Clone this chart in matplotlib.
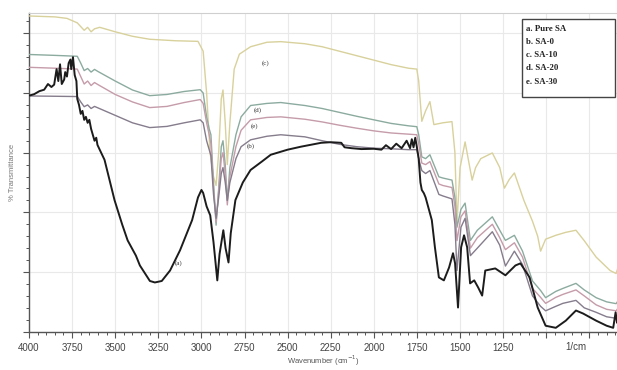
import matplotlib
matplotlib.use("Agg")
import matplotlib.pyplot as plt
from matplotlib.ticker import FixedLocator, MultipleLocator

# ---------------- data (wavenumber cm^-1, % transmittance) ----------------
wn_a = [4000, 3970, 3940, 3912, 3890, 3870, 3854, 3840, 3830, 3820, 3810, 3796, 3790, 3780,
        3770, 3760, 3755, 3745, 3735, 3725, 3720, 3710, 3700, 3690, 3680, 3670, 3660, 3650,
        3640, 3620, 3610, 3603, 3590, 3562, 3504, 3460, 3428, 3380, 3357, 3299, 3270, 3230,
        3182, 3124, 3054, 3020, 3000, 2990, 2970, 2949, 2930, 2908, 2895, 2873, 2860, 2843,
        2830, 2803, 2760, 2715, 2650, 2598, 2500, 2423, 2306, 2250, 2189, 2170, 2130, 2072,
        2000, 1956, 1930, 1900, 1870, 1839, 1810, 1790, 1780, 1770, 1760, 1751, 1740, 1730,
        1722, 1710, 1700, 1664, 1646, 1623, 1594, 1564, 1541, 1529, 1512, 1494, 1477, 1459,
        1442, 1418, 1395, 1372, 1354, 1296, 1237, 1179, 1150, 1097, 1050, 1004, 945, 887,
        828, 787, 711, 650, 612, 598, 590, 577]
t_a = [79.1, 79.6, 80.6, 81.1, 83.0, 82.0, 82.8, 88.0, 84.0, 89.6, 83.0, 84.5, 87.0, 85.5,
       90.0, 91.2, 88.0, 92.0, 86.0, 84.0, 78.0, 76.0, 73.0, 74.0, 71.0, 72.0, 70.0, 71.0,
       68.0, 64.0, 65.0, 62.6, 61.0, 57.6, 44.1, 36.0, 30.6, 25.5, 22.2, 17.0, 16.5, 17.0,
       20.5, 27.3, 37.4, 45.0, 47.5, 46.5, 42.0, 39.0, 30.0, 17.2, 26.0, 34.0, 28.0, 23.2,
       33.0, 44.1, 50.0, 54.2, 57.0, 59.3, 61.0, 62.0, 63.3, 63.5, 63.3, 61.8, 61.5, 61.2,
       61.3, 61.0, 62.5, 61.2, 63.0, 61.5, 64.0, 61.5, 64.5, 61.8, 65.0, 62.0, 58.0, 50.0,
       47.5, 46.4, 45.0, 37.4, 28.3, 18.2, 17.2, 21.5, 26.3, 22.9, 8.1, 28.3, 32.3, 28.3,
       16.2, 17.2, 14.8, 12.1, 20.5, 21.2, 18.9, 22.2, 22.9, 18.2, 8.1, 2.0, 1.3, 3.7,
       7.1, 6.1, 3.7, 2.0, 1.3, 6.5, 3.0, 3.7]

wn_b = [4000, 3850, 3720, 3700, 3680, 3660, 3640, 3620, 3600, 3500, 3400, 3300, 3200, 3100,
        3007, 2990, 2970, 2955, 2945, 2930, 2915, 2900, 2885, 2875, 2862, 2850, 2835, 2800,
        2770, 2715, 2620, 2540, 2400, 2300, 2200, 2100, 2000, 1900, 1800, 1751, 1740, 1722,
        1700, 1675, 1623, 1600, 1547, 1530, 1518, 1495, 1471, 1440, 1400, 1313, 1270, 1237,
        1185, 1138, 1080, 1033, 1004, 945, 904, 828, 780, 711, 650, 595, 577]
t_b = [79.0, 78.9, 78.8, 77.0, 75.4, 76.0, 74.8, 75.5, 75.0, 72.5, 70.0, 68.4, 68.8, 70.0,
       71.0, 70.0, 64.0, 61.0, 59.0, 46.0, 38.0, 45.0, 53.0, 55.0, 50.0, 44.0, 50.0, 58.0,
       62.0, 64.3, 65.5, 66.0, 65.3, 64.0, 62.8, 62.0, 61.5, 61.3, 61.0, 61.0, 58.0, 54.0,
       53.0, 54.0, 46.0, 45.5, 44.5, 36.0, 20.5, 35.0, 38.0, 25.5, 28.0, 33.5, 29.0, 22.0,
       27.0, 22.5, 12.0, 8.5, 7.0, 8.5, 9.5, 10.5, 8.0, 6.5, 5.0, 4.5, 6.0]

wn_c = [4000, 3850, 3780, 3720, 3680, 3660, 3640, 3620, 3590, 3500, 3400, 3300, 3150, 3020,
        2990, 2970, 2950, 2930, 2915, 2900, 2885, 2875, 2862, 2850, 2835, 2810, 2780, 2715,
        2620, 2540, 2400, 2300, 2200, 2100, 2000, 1900, 1800, 1751, 1740, 1722, 1700, 1675,
        1652, 1600, 1547, 1530, 1518, 1500, 1471, 1450, 1430, 1410, 1380, 1313, 1270, 1243,
        1215, 1185, 1130, 1080, 1050, 1033, 1004, 945, 887, 828, 780, 711, 630, 595, 577]
t_c = [105.8, 105.5, 105.0, 103.5, 101.0, 102.0, 100.5, 101.5, 102.0, 100.5, 99.0, 98.0, 97.5,
       97.3, 94.0, 80.0, 60.0, 52.0, 49.0, 60.0, 78.0, 81.0, 70.0, 56.0, 70.0, 88.0, 93.0,
       95.5, 97.0, 97.2, 96.5, 95.5, 94.0, 92.5, 91.0, 89.5, 88.3, 88.0, 84.0, 70.5, 74.0,
       77.1, 69.4, 70.0, 70.4, 60.0, 36.4, 55.0, 63.6, 57.0, 50.8, 55.0, 58.0, 59.9, 55.0,
       48.1, 51.0, 53.2, 44.0, 37.0, 32.0, 27.0, 31.0, 32.3, 33.3, 34.0, 30.5, 25.0, 20.5,
       19.5, 23.0]

wn_d = [4000, 3850, 3720, 3700, 3680, 3660, 3640, 3620, 3600, 3500, 3400, 3300, 3200, 3100,
        3007, 2990, 2970, 2955, 2945, 2930, 2915, 2900, 2885, 2875, 2862, 2850, 2835, 2800,
        2770, 2715, 2620, 2540, 2400, 2300, 2200, 2100, 2000, 1900, 1800, 1751, 1740, 1722,
        1700, 1675, 1623, 1600, 1547, 1530, 1518, 1495, 1471, 1440, 1400, 1313, 1270, 1237,
        1185, 1138, 1080, 1033, 1004, 945, 904, 828, 780, 711, 650, 595, 577]
t_d = [92.9, 92.6, 92.3, 90.0, 87.5, 88.2, 87.0, 87.9, 87.2, 84.0, 81.0, 79.1, 79.5, 80.5,
       81.1, 80.0, 72.0, 68.0, 66.0, 50.0, 35.7, 48.0, 62.0, 64.0, 56.0, 44.0, 55.0, 66.0,
       72.0, 75.8, 76.5, 76.8, 75.8, 74.8, 73.5, 72.2, 71.0, 69.8, 69.0, 68.7, 66.0, 58.6,
       58.0, 59.3, 51.9, 51.5, 50.8, 45.0, 35.0, 41.0, 43.1, 30.6, 34.0, 38.5, 34.0, 30.6,
       32.3, 27.0, 17.0, 13.8, 11.4, 13.5, 14.5, 16.2, 14.0, 11.4, 10.0, 9.4, 11.0]

wn_e = [4000, 3850, 3720, 3700, 3680, 3660, 3640, 3620, 3600, 3500, 3400, 3300, 3200, 3100,
        3007, 2990, 2970, 2955, 2945, 2930, 2915, 2900, 2885, 2875, 2862, 2850, 2835, 2800,
        2770, 2715, 2620, 2540, 2400, 2300, 2200, 2100, 2000, 1900, 1800, 1751, 1740, 1722,
        1700, 1675, 1623, 1600, 1547, 1530, 1518, 1495, 1471, 1440, 1400, 1313, 1270, 1237,
        1185, 1138, 1080, 1033, 1004, 945, 904, 828, 780, 711, 650, 595, 577]
t_e = [88.6, 88.3, 88.0, 85.5, 83.0, 84.0, 82.5, 83.5, 82.8, 79.5, 77.0, 75.1, 75.5, 76.8,
       77.8, 76.5, 70.0, 66.0, 63.0, 48.0, 36.7, 47.0, 58.0, 60.0, 53.0, 42.5, 52.0, 62.0,
       67.5, 71.0, 71.8, 72.0, 71.2, 70.3, 69.2, 68.2, 67.3, 66.6, 66.2, 66.0, 63.0, 56.5,
       56.0, 57.0, 49.5, 49.0, 48.3, 42.0, 30.5, 38.5, 40.5, 28.0, 31.5, 36.0, 31.5, 27.5,
       29.8, 25.0, 14.5, 11.5, 9.5, 11.5, 12.5, 14.0, 12.0, 9.0, 7.5, 7.0, 8.5]

curve_labels = ["(a)", "(b)", "(c)", "(d)", "(e)"]
label_wn = [3130, 2715, 2627, 2674, 2692]
label_t = [22.9, 62.3, 89.9, 74.4, 69.0]

legend_lines = ["a. Pure SA", "b. SA-0", "c. SA-10", "d. SA-20", "e. SA-30"]

major_ticks = [4000, 3750, 3500, 3250, 3000, 2750, 2500, 2250, 2000, 1750, 1500, 1250, 1000, 750]
major_labels = ["4000", "3750", "3500", "3250", "3000", "2750", "2500", "2250", "2000",
                "1750", "1500", "1250", "", ""]

# ---------------- figure ----------------
fig = plt.figure(figsize=(6.17, 3.70), dpi=100)
ax = fig.add_axes([29 / 617, (370 - 331.7) / 370, 588 / 617, 318.4 / 370])

col_a = "#1c1c1c"
col_b = "#857c8c"
col_c = "#d8d19c"
col_d = "#8cab9f"
col_e = "#c59ca9"

ax.plot(wn_c, t_c, color=col_c, lw=1.0, zorder=3)
ax.plot(wn_d, t_d, color=col_d, lw=1.0, zorder=3)
ax.plot(wn_e, t_e, color=col_e, lw=1.0, zorder=3)
ax.plot(wn_b, t_b, color=col_b, lw=1.0, zorder=3)
ax.plot(wn_a, t_a, color=col_a, lw=1.4, zorder=4)

ax.set_xlim(4000, 590)
ax.set_ylim(0, 106.7)

ax.xaxis.set_major_locator(FixedLocator(major_ticks))
ax.set_xticklabels(major_labels)
ax.xaxis.set_minor_locator(MultipleLocator(50))
ax.yaxis.set_major_locator(MultipleLocator(20))
ax.yaxis.set_minor_locator(MultipleLocator(4))
ax.set_yticklabels([])

ax.grid(True, which="major", color="#e9e9e9", lw=0.8, zorder=0)
ax.set_axisbelow(True)

ax.tick_params(axis="both", which="major", direction="out", length=4, width=0.8,
               color="#555555", labelsize=7, labelcolor="#444444", pad=4)
ax.tick_params(axis="both", which="minor", direction="out", length=2.5, width=0.7,
               color="#555555")
for lbl in ax.get_xticklabels():
    lbl.set_family(["Liberation Sans", "DejaVu Sans"])

for side in ("left", "bottom"):
    ax.spines[side].set_color("#555555")
    ax.spines[side].set_linewidth(1.0)
ax.spines["top"].set_color("#cfcfcf")
ax.spines["right"].set_visible(False)

ax.text(828, -0.048, "1/cm", transform=ax.get_xaxis_transform(), ha="center", va="center",
        fontsize=7, color="#444444", family=["Liberation Sans", "DejaVu Sans"])

ax.set_xlabel("Wavenumber (cm$^{-1}$)", fontsize=5.5, color="#555555",
              family=["Liberation Sans", "DejaVu Sans"])
ax.xaxis.set_label_coords(0.5, -0.07)
ax.set_ylabel("% Transmittance", fontsize=5.5, color="#777777",
              family=["Liberation Sans", "DejaVu Sans"])
ax.yaxis.set_label_coords(-0.022, 0.5)

for txt, xw, yt in zip(curve_labels, label_wn, label_t):
    ax.text(xw, yt, txt, fontsize=5, color="#333333", ha="center", va="center",
            family=["Liberation Serif", "DejaVu Serif"], zorder=5)

# legend box
box = plt.Rectangle((0.838, 0.737), 0.159, 0.245, transform=ax.transAxes, fill=True,
                    facecolor="white", edgecolor="#444444", lw=1.0, zorder=6)
ax.add_patch(box)
ys = [0.951, 0.910, 0.869, 0.828, 0.784]
for txt, yy in zip(legend_lines, ys):
    ax.text(0.845, yy, txt, transform=ax.transAxes, fontsize=6.3, fontweight="bold",
            color="#222222", ha="left", va="center",
            family=["Liberation Serif", "DejaVu Serif"], zorder=7)

fig.savefig("out.png", dpi=100)
